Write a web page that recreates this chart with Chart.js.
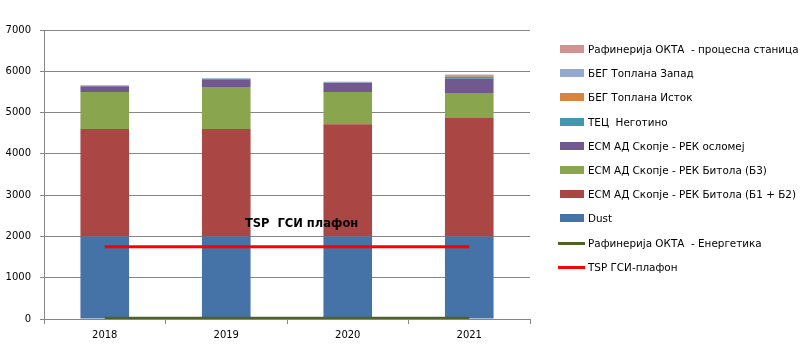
<!DOCTYPE html>
<html><head><meta charset="utf-8">
<script src="https://cdn.jsdelivr.net/npm/chart.js@4/dist/chart.umd.min.js"></script>
<style>html,body{margin:0;padding:0;background:#fff}#wrap{width:802px;height:357px;position:relative}</style>
</head><body><div id="wrap"><canvas id="c"></canvas></div>
<script>
// ---- data ----
const categories = ['2018', '2019', '2020', '2021'];
const dust        = [2000, 2000, 2000, 2000];
const rekB1B2     = [2600, 2600, 2720, 2870];
const rekB3       = [900, 1020, 780, 605];
const rekOslomej  = [135, 190, 220, 345];
const tecNegotino = [0, 0, 0, 45];
const begIstok    = [0, 0, 0, 40];
const begZapad    = [25, 20, 25, 10];
const oktaProcess = [0, 0, 0, 5];
const oktaEnergetika = [20, 20, 20, 20];
const tspCeiling  = [1750, 1750, 1750, 1750];
const yTickValues = [0, 1000, 2000, 3000, 4000, 5000, 6000, 7000];
const annotationText = 'TSP  ГСИ плафон';
const annotationPos = { x: 1.62, y: 2290 };

// ---- chart ----
Chart.defaults.font.family = '"DejaVu Sans", Verdana, sans-serif';
Chart.defaults.font.size = 10;
Chart.defaults.color = '#000';

const bar = (label, data, color) => ({ type: 'bar', label, data, backgroundColor: color, borderWidth: 0, stack: 'bars', order: 2, categoryPercentage: 1.0, barPercentage: 0.4 });
const line = (label, data, color, st) => ({ type: 'line', label, data, borderColor: color, backgroundColor: color, borderWidth: 3, pointRadius: 0, pointHoverRadius: 0, fill: false, stack: st, order: 0, tension: 0 });

const datasets = [
  bar('Dust', dust, '#4572A7'),
  bar('ЕСМ АД Скопје - РЕК Битола (Б1 + Б2)', rekB1B2, '#AA4643'),
  bar('ЕСМ АД Скопје - РЕК Битола (Б3)', rekB3, '#89A54E'),
  bar('ЕСМ АД Скопје - РЕК осломеј', rekOslomej, '#71588F'),
  bar('ТЕЦ  Неготино', tecNegotino, '#4198AF'),
  bar('БЕГ Топлана Исток', begIstok, '#DB843D'),
  bar('БЕГ Топлана Запад', begZapad, '#93A9CF'),
  bar('Рафинерија ОКТА  - процесна станица', oktaProcess, '#D19392'),
  line('Рафинерија ОКТА  - Енергетика', oktaEnergetika, '#4F6228', 'l1'),
  line('TSP ГСИ-плафон', tspCeiling, '#FF0000', 'l2')
];
const legendOrder = [7, 6, 5, 4, 3, 2, 1, 0, 8, 9];

const sideLegend = {
  id: 'sideLegend',
  afterDraw(chart) {
    const ctx = chart.ctx;
    const x0 = chart.chartArea.right + 30;
    const y0 = chart.chartArea.top + 19;
    ctx.save();
    ctx.font = '10.4px "DejaVu Sans", Verdana, sans-serif';
    ctx.textBaseline = 'middle';
    ctx.textAlign = 'left';
    legendOrder.forEach((idx, k) => {
      const ds = chart.data.datasets[idx];
      const cy = Math.round(y0 + k * 24.2);
      if (ds.type === 'line') {
        ctx.strokeStyle = ds.borderColor;
        ctx.lineWidth = 3;
        ctx.beginPath();
        ctx.moveTo(x0 - 2, cy + 0.5);
        ctx.lineTo(x0 + 25, cy + 0.5);
        ctx.stroke();
      } else {
        ctx.fillStyle = ds.backgroundColor;
        ctx.fillRect(x0, cy - 4, 24, 8);
      }
      ctx.fillStyle = '#000';
      ctx.fillText(ds.label, x0 + 28, cy + 1);
    });
    ctx.restore();
  }
};

const textNote = {
  id: 'textNote',
  afterDatasetsDraw(chart) {
    const ctx = chart.ctx;
    const x = chart.scales.x.getPixelForValue(annotationPos.x);
    const y = chart.scales.y.getPixelForValue(annotationPos.y);
    ctx.save();
    ctx.font = 'bold 11.5px "DejaVu Sans", Verdana, sans-serif';
    ctx.fillStyle = '#000';
    ctx.textAlign = 'center';
    ctx.textBaseline = 'middle';
    ctx.fillText(annotationText, x, y);
    ctx.restore();
  }
};

new Chart(document.getElementById('c'), {
  type: 'bar',
  data: { labels: categories, datasets },
  options: {
    responsive: true,
    maintainAspectRatio: false,
    animation: false,
    layout: { padding: { left: 5, right: 272, top: 30, bottom: 11 } },
    plugins: { legend: { display: false }, tooltip: { enabled: false } },
    scales: {
      x: {
        stacked: true,
        offset: true,
        grid: { display: true, drawOnChartArea: false, drawTicks: true, tickLength: 5, color: '#868686', offset: true },
        border: { display: true, color: '#868686', width: 1 },
        ticks: { padding: 5, color: '#000', font: { size: 10 }, maxRotation: 0 }
      },
      y: {
        stacked: true,
        min: 0, max: 7000,
        afterBuildTicks(scale) { scale.ticks = yTickValues.map(v => ({ value: v })); },
        afterFit(scale) { scale.width = 39; },
        grid: { color: '#868686', drawTicks: true, tickLength: 4, lineWidth: 1 },
        border: { display: true, color: '#868686', width: 1 },
        ticks: { padding: 9, color: '#000', font: { size: 10 }, callback: v => String(v) }
      }
    }
  },
  plugins: [sideLegend, textNote]
});
</script>
</body></html>
